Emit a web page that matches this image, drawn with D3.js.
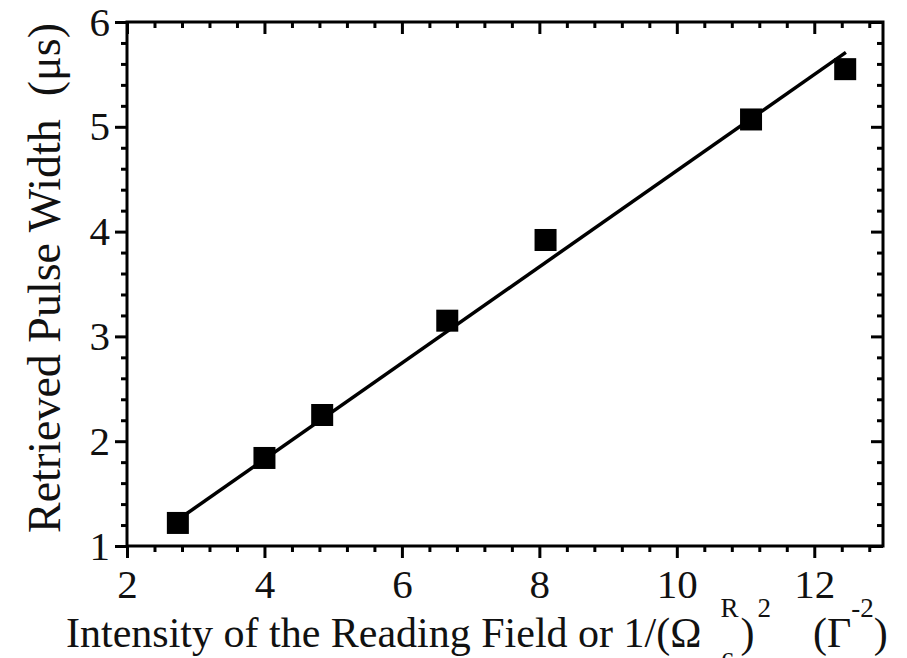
<!DOCTYPE html>
<html>
<head>
<meta charset="utf-8">
<script src="https://cdn.jsdelivr.net/npm/d3@7"></script>
<style>
  body { margin: 0; background: #fff; }
  svg { display: block; }
</style>
</head>
<body>
<svg id="chart"></svg>
<script>
// data
const intensity = [2.74, 4.0, 4.84, 6.66, 8.09, 11.08, 12.45];
const pulseWidth = [1.22, 1.84, 2.25, 3.15, 3.92, 5.07, 5.55];
const fitX = [2.74, 12.46];
const fitY = [1.25, 5.71];
const xTicks = [2, 4, 6, 8, 10, 12];
const yTicks = [1, 2, 3, 4, 5, 6];

const width = 907, height = 658;
const margin = { top: 22, right: 24, bottom: 112, left: 127 };

const svg = d3.select('#chart')
  .attr('width', width)
  .attr('height', height);

const x = d3.scaleLinear().domain([2, 13]).range([margin.left, width - margin.right]);
const y = d3.scaleLinear().domain([1, 6]).range([height - margin.bottom, margin.top]);

const font = '"Liberation Serif", "Times New Roman", serif';
const minorX = d3.range(2, 13.01, 0.4).filter(v => !xTicks.some(t => Math.abs(t - v) < 1e-6));
const minorY = d3.range(1, 6.01, 0.2).filter(v => !yTicks.some(t => Math.abs(t - v) < 1e-6));

// minor ticks
svg.append('g')
  .attr('transform', `translate(0,${y(1)})`)
  .call(d3.axisBottom(x).tickValues(minorX).tickSize(6).tickFormat(''));
svg.append('g')
  .attr('transform', `translate(0,${y(6)})`)
  .call(d3.axisTop(x).tickValues(minorX).tickSize(-6).tickFormat(''));
svg.append('g')
  .attr('transform', `translate(${x(2)},0)`)
  .call(d3.axisLeft(y).tickValues(minorY).tickSize(6).tickFormat(''));
svg.append('g')
  .attr('transform', `translate(${x(13)},0)`)
  .call(d3.axisRight(y).tickValues(minorY).tickSize(-6).tickFormat(''));

// major ticks
svg.append('g')
  .attr('transform', `translate(0,${y(1)})`)
  .call(d3.axisBottom(x).tickValues(xTicks).tickSize(12).tickPadding(11).tickFormat(d3.format('d')));
svg.append('g')
  .attr('transform', `translate(0,${y(6)})`)
  .call(d3.axisTop(x).tickValues(xTicks).tickSize(-12).tickFormat(''));
svg.append('g')
  .attr('transform', `translate(${x(2)},0)`)
  .call(d3.axisLeft(y).tickValues(yTicks).tickSize(12).tickPadding(5).tickFormat(d3.format('d')));
svg.append('g')
  .attr('transform', `translate(${x(13)},0)`)
  .call(d3.axisRight(y).tickValues(yTicks).tickSize(-12).tickFormat(''));

svg.selectAll('.domain').remove();
svg.selectAll('.tick line').attr('stroke', '#000').attr('stroke-width', 3);
svg.selectAll('.tick text')
  .attr('font-family', font)
  .attr('font-size', 41)
  .attr('fill', '#111');

// frame
svg.append('rect')
  .attr('x', x(2))
  .attr('y', y(6))
  .attr('width', x(13) - x(2))
  .attr('height', y(1) - y(6))
  .attr('fill', 'none')
  .attr('stroke', '#000')
  .attr('stroke-width', 3);

// fit line
svg.append('line')
  .attr('x1', x(fitX[0])).attr('y1', y(fitY[0]))
  .attr('x2', x(fitX[1])).attr('y2', y(fitY[1]))
  .attr('stroke', '#000')
  .attr('stroke-width', 3.5);

// data squares
const s = 22;
svg.selectAll('.pt')
  .data(intensity)
  .enter().append('rect')
  .attr('class', 'pt')
  .attr('x', (d) => x(d) - s / 2)
  .attr('y', (d, i) => y(pulseWidth[i]) - s / 2)
  .attr('width', s)
  .attr('height', s)
  .attr('fill', '#000');

// axis labels
svg.append('text')
  .attr('transform', `translate(60,278) rotate(-90)`)
  .attr('text-anchor', 'middle')
  .attr('font-family', font)
  .attr('font-size', 46)
  .attr('fill', '#111')
  .style('white-space', 'pre')
  .text('Retrieved Pulse Width  (\u03bcs)');

const xl = svg.append('text')
  .attr('x', 66)
  .attr('y', 647)
  .attr('font-family', font)
  .attr('font-size', 42)
  .attr('fill', '#111')
  .style('white-space', 'pre');
xl.append('tspan').text('Intensity of the Reading Field or 1/(\u03a9');
xl.append('tspan').attr('font-size', 27).attr('dx', 20).attr('dy', 19).text('c');
xl.append('tspan').attr('font-size', 27).attr('dx', -13).attr('dy', -49).text('R');
xl.append('tspan').attr('dx', 2).attr('dy', 30).text(')');
xl.append('tspan').attr('font-size', 27).attr('dx', 3).attr('dy', -30).text('2');
xl.append('tspan').attr('dy', 30).text('    (\u0393');
xl.append('tspan').attr('font-size', 27).attr('dy', -30).text('-2');
xl.append('tspan').attr('dy', 30).text(')');
</script>
</body>
</html>
